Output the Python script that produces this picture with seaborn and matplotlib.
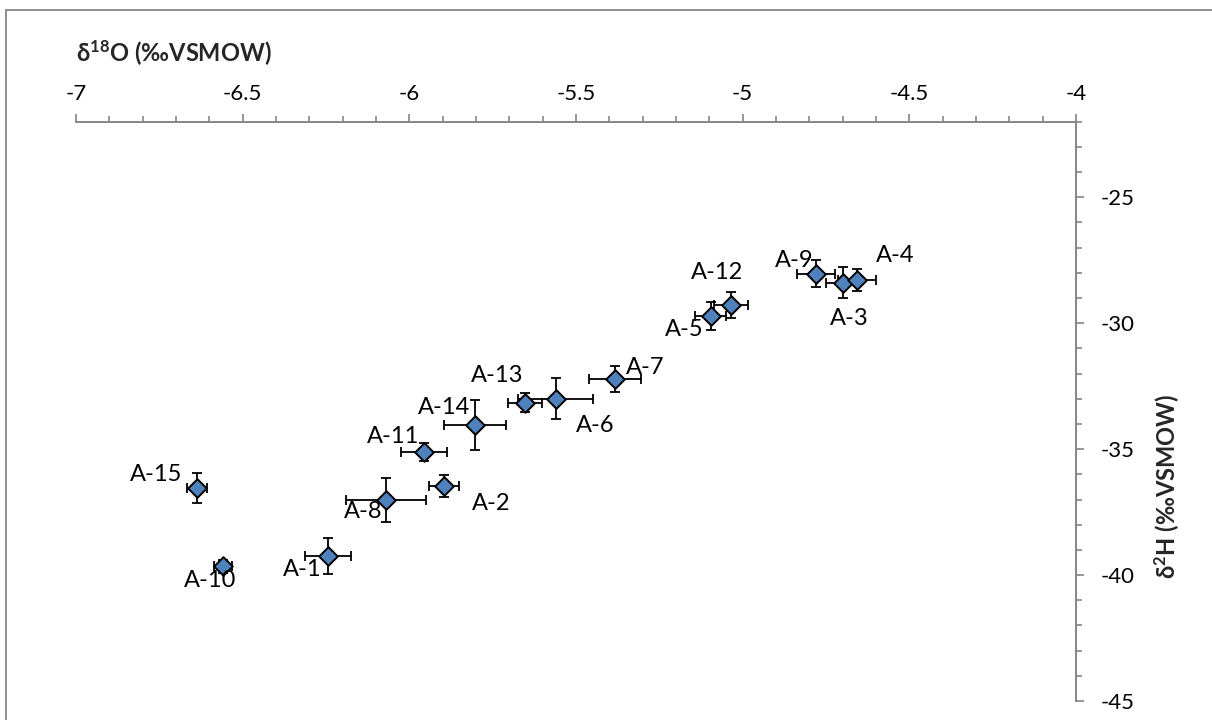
import numpy as np
import pandas as pd
import matplotlib.pyplot as plt
from matplotlib.lines import Line2D
from matplotlib.ticker import MultipleLocator
import seaborn as sns

# ============================================================
# DATA
# ============================================================
samples = ['A-1', 'A-2', 'A-3', 'A-4', 'A-5', 'A-6', 'A-7', 'A-8',
           'A-9', 'A-10', 'A-11', 'A-12', 'A-13', 'A-14', 'A-15']
d18O = [-6.243, -5.896, -4.699, -4.657, -5.096, -5.561, -5.383, -6.070,
        -4.779, -6.558, -5.956, -5.035, -5.652, -5.803, -6.637]
d2H = [-39.23, -36.46, -28.39, -28.29, -29.71, -32.99, -32.22, -37.01,
       -28.03, -39.65, -35.12, -29.29, -33.16, -34.03, -36.54]
d18O_err = [0.069, 0.045, 0.050, 0.058, 0.047, 0.112, 0.078, 0.119,
            0.057, 0.027, 0.068, 0.052, 0.051, 0.093, 0.029]
d2H_err = [0.72, 0.45, 0.62, 0.43, 0.55, 0.82, 0.52, 0.88,
           0.53, 0.25, 0.36, 0.52, 0.37, 1.00, 0.60]

x_title = 'δ$^{18}$O (‰VSMOW)'
y_title = 'δ$^{2}$H (‰VSMOW)'

# label placement (pixel offsets from the marker, y up)
label_offsets = {
    'A-1': (-26, -14), 'A-2': (47, -18), 'A-3': (6, -36), 'A-4': (38, 25),
    'A-5': (-26, -14), 'A-6': (40, -27), 'A-7': (30, 12), 'A-8': (-23, -12),
    'A-9': (-22, 13), 'A-10': (-13, -14), 'A-11': (-31, 16), 'A-12': (-14, 33),
    'A-13': (-28, 27), 'A-14': (-31, 17), 'A-15': (-41, 13),
}

df = pd.DataFrame({'sample': samples, 'd18O': d18O, 'd2H': d2H,
                   'd18O_err': d18O_err, 'd2H_err': d2H_err})

# ============================================================
# STYLE
# ============================================================
sns.set_theme(style='white')
plt.rcParams['font.family'] = ['Lato', 'Noto Sans', 'DejaVu Sans']
plt.rcParams['axes.unicode_minus'] = False
plt.rcParams['mathtext.default'] = 'regular'

GREY = '#868686'
BLUE = '#4F81BD'

fig = plt.figure(figsize=(12.12, 7.2), dpi=100)
ax = fig.add_axes([76 / 1212, 19 / 720, 1000 / 1212, 579.3 / 720])

# ============================================================
# PLOT
# ============================================================
ax.errorbar(df['d18O'], df['d2H'], xerr=df['d18O_err'], yerr=df['d2H_err'],
            fmt='none', ecolor='black', elinewidth=1.3, capsize=3.8,
            capthick=1.3, zorder=2)
sns.scatterplot(data=df, x='d18O', y='d2H', marker='D', s=90, color=BLUE,
                edgecolor='black', linewidth=1.4, zorder=3, ax=ax, legend=False)

for _, row in df.iterrows():
    dx, dy = label_offsets[row['sample']]
    ax.annotate(row['sample'], (row['d18O'], row['d2H']), xytext=(dx, dy),
                textcoords='offset pixels', ha='center', va='center',
                fontsize=17, color='black', zorder=4)

# ============================================================
# AXES (Excel-like: x on top, y on right)
# ============================================================
ax.set_xlim(-7, -4)
ax.set_ylim(-45, -22)
ax.xaxis.set_minor_locator(MultipleLocator(0.1))
ax.yaxis.set_minor_locator(MultipleLocator(1))
ax.set_xticks([-7, -6.5, -6, -5.5, -5, -4.5, -4])
ax.set_xticklabels(['-7', '-6.5', '-6', '-5.5', '-5', '-4.5', '-4'])
ax.set_yticks([-45, -40, -35, -30, -25])
ax.set_yticklabels(['-45', '-40', '-35', '-30', '-25'])

for side in ['left', 'bottom']:
    ax.spines[side].set_visible(False)
for side in ['top', 'right']:
    ax.spines[side].set_color(GREY)
    ax.spines[side].set_linewidth(1.4)

ax.tick_params(axis='x', which='both', top=True, bottom=False, labeltop=True,
               labelbottom=False, direction='out', color=GREY, width=1.2)
ax.tick_params(axis='y', which='both', right=True, left=False, labelright=True,
               labelleft=False, direction='out', color=GREY, width=1.2)
ax.tick_params(which='major', length=6)
ax.tick_params(which='minor', length=4.3)
ax.tick_params(axis='x', which='major', pad=7, labelsize=16, labelcolor='black')
ax.tick_params(axis='y', which='major', pad=12, labelsize=16, labelcolor='black')

ax.set_xlabel(x_title, fontsize=17, fontweight='bold')
ax.xaxis.set_label_position('top')
ax.xaxis.label.set_ha('left')
ax.xaxis.label.set_va('center')
ax.xaxis.set_label_coords(0.0, 1.1186)

ax.set_ylabel(y_title, fontsize=17, fontweight='bold', rotation=90)
ax.yaxis.set_label_position('right')
ax.yaxis.label.set_va('center')
ax.yaxis.set_label_coords(1.091, 0.37)

ax.set_facecolor('white')

# chart area border (top and left edges visible in the reference)
fig.add_artist(Line2D([6 / 1212, 6 / 1212], [0, 1 - 9.5 / 720],
                      transform=fig.transFigure, color=GREY, lw=1.3))
fig.add_artist(Line2D([6 / 1212, 1], [1 - 9.5 / 720, 1 - 9.5 / 720],
                      transform=fig.transFigure, color=GREY, lw=1.3))

fig.savefig('out.png', dpi=100, facecolor='white')
